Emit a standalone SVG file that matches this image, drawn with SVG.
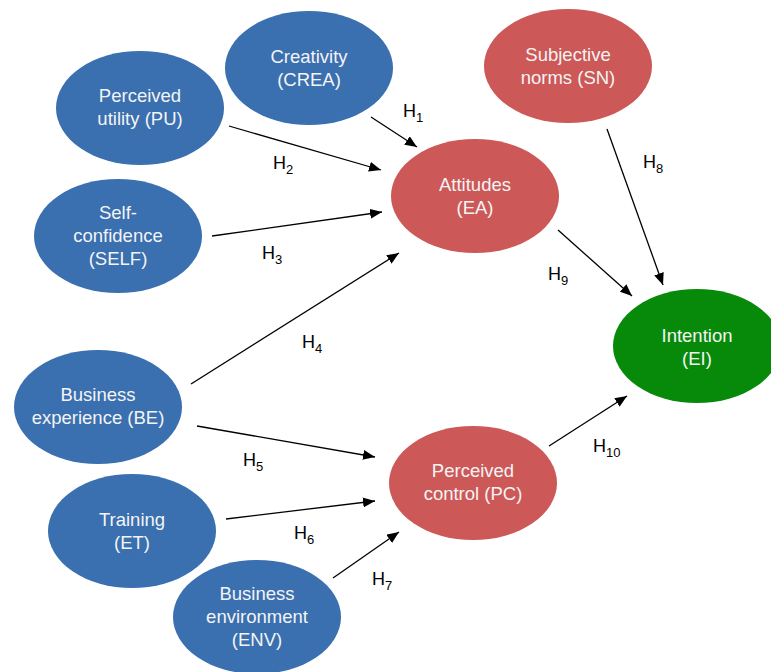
<svg xmlns="http://www.w3.org/2000/svg" width="771" height="672" viewBox="0 0 771 672">
<style>
.blue{fill:#3A6FB0}
.red{fill:#CD5858}
.green{fill:#078A0A}
.nt{font-family:"Liberation Sans",Arial,sans-serif;font-size:18.5px;fill:#F4F4F4;text-anchor:middle}
.lb{font-family:"Liberation Sans",Arial,sans-serif;font-size:18px;fill:#000}
.sub{font-size:13px}
.ed{stroke:#000;stroke-width:1.3;fill:none;marker-end:url(#ah)}
</style>
<defs>
<marker id="ah" viewBox="0 0 12 10" refX="12" refY="5" markerWidth="12" markerHeight="10" markerUnits="userSpaceOnUse" orient="auto">
<path d="M0,0 L12,5 L0,10 Z" fill="#000"/>
</marker>
</defs>
<rect width="771" height="672" fill="#fff"/>
<g id="connectors">
<line class="ed" x1="371" y1="117" x2="417" y2="147"/>
<line class="ed" x1="229" y1="126" x2="381" y2="170"/>
<line class="ed" x1="212" y1="236" x2="382" y2="212"/>
<line class="ed" x1="191" y1="384" x2="399" y2="253"/>
<line class="ed" x1="197" y1="426" x2="375" y2="457"/>
<line class="ed" x1="226" y1="519" x2="375" y2="501"/>
<line class="ed" x1="333" y1="578" x2="399" y2="532"/>
<line class="ed" x1="607" y1="129" x2="663" y2="285"/>
<line class="ed" x1="558" y1="230" x2="632" y2="296"/>
<line class="ed" x1="549" y1="446" x2="627" y2="396"/>
</g>
<g id="labels">
<text class="lb" x="403" y="117">H<tspan class="sub" dy="5">1</tspan></text>
<text class="lb" x="273" y="169">H<tspan class="sub" dy="5">2</tspan></text>
<text class="lb" x="262" y="259">H<tspan class="sub" dy="5">3</tspan></text>
<text class="lb" x="302" y="348">H<tspan class="sub" dy="5">4</tspan></text>
<text class="lb" x="243" y="466">H<tspan class="sub" dy="5">5</tspan></text>
<text class="lb" x="294" y="539">H<tspan class="sub" dy="5">6</tspan></text>
<text class="lb" x="372" y="585">H<tspan class="sub" dy="5">7</tspan></text>
<text class="lb" x="643" y="168">H<tspan class="sub" dy="5">8</tspan></text>
<text class="lb" x="548" y="280">H<tspan class="sub" dy="5">9</tspan></text>
<text class="lb" x="593" y="452">H<tspan class="sub" dy="5">10</tspan></text>
</g>
<g id="CREA">
<ellipse class="blue" cx="309" cy="68" rx="84" ry="57"/>
<text class="nt" x="309" y="63">Creativity</text>
<text class="nt" x="309" y="86">(CREA)</text>
</g>
<g id="PU">
<ellipse class="blue" cx="140" cy="108" rx="84" ry="57"/>
<text class="nt" x="140" y="102">Perceived</text>
<text class="nt" x="140" y="125">utility (PU)</text>
</g>
<g id="SELF">
<ellipse class="blue" cx="118" cy="236" rx="84" ry="57"/>
<text class="nt" x="118" y="219">Self-</text>
<text class="nt" x="118" y="242">confidence</text>
<text class="nt" x="118" y="265">(SELF)</text>
</g>
<g id="SN">
<ellipse class="red" cx="568" cy="66" rx="84" ry="57"/>
<text class="nt" x="568" y="61">Subjective</text>
<text class="nt" x="568" y="84">norms (SN)</text>
</g>
<g id="EA">
<ellipse class="red" cx="475" cy="196" rx="84" ry="57"/>
<text class="nt" x="475" y="191">Attitudes</text>
<text class="nt" x="475" y="214">(EA)</text>
</g>
<g id="EI">
<ellipse class="green" cx="697" cy="346" rx="84" ry="57"/>
<text class="nt" x="697" y="342">Intention</text>
<text class="nt" x="697" y="365">(EI)</text>
</g>
<g id="BE">
<ellipse class="blue" cx="98" cy="407" rx="84" ry="57"/>
<text class="nt" x="98" y="401">Business</text>
<text class="nt" x="98" y="424">experience (BE)</text>
</g>
<g id="PC">
<ellipse class="red" cx="473" cy="483" rx="84" ry="57"/>
<text class="nt" x="473" y="477">Perceived</text>
<text class="nt" x="473" y="500">control (PC)</text>
</g>
<g id="ET">
<ellipse class="blue" cx="132" cy="531" rx="84" ry="57"/>
<text class="nt" x="132" y="526">Training</text>
<text class="nt" x="132" y="549">(ET)</text>
</g>
<g id="ENV">
<ellipse class="blue" cx="257" cy="617" rx="84" ry="57"/>
<text class="nt" x="257" y="600">Business</text>
<text class="nt" x="257" y="623">environment</text>
<text class="nt" x="257" y="646">(ENV)</text>
</g>
</svg>
